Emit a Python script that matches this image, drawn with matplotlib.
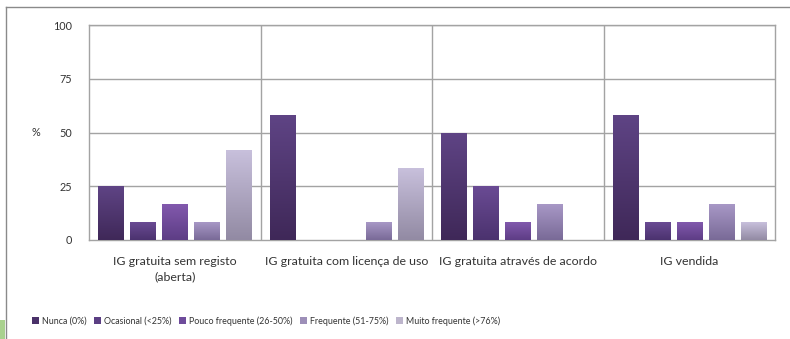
import matplotlib.pyplot as plt
import numpy as np
from matplotlib.colors import LinearSegmentedColormap
from matplotlib.lines import Line2D
from matplotlib.patches import Patch, Rectangle

plt.rcParams["font.family"] = ["Lato", "DejaVu Sans"]

categories = [
    "IG gratuita sem registo\n(aberta)",
    "IG gratuita com licença de uso",
    "IG gratuita através de acordo",
    "IG vendida",
]
series_names = [
    "Nunca (0%)",
    "Ocasional (<25%)",
    "Pouco frequente (26-50%)",
    "Frequente (51-75%)",
    "Muito frequente (>76%)",
]
# percent of answers per category, one list per frequency class
nunca = [25.0, 58.33, 50.0, 58.33]
ocasional = [8.33, 0.0, 25.0, 8.33]
pouco = [16.67, 0.0, 8.33, 8.33]
frequente = [8.33, 8.33, 16.67, 16.67]
muito = [41.67, 33.33, 0.0, 8.33]
yticks = [0, 25, 50, 75, 100]

series = [nunca, ocasional, pouco, frequente, muito]
# (top, bottom) colours of each bar's vertical gradient
gradients = [
    ("#5f4485", "#3f2858"),
    ("#6a4b94", "#4b326e"),
    ("#8259ad", "#5d3d85"),
    ("#a898c6", "#796a97"),
    ("#c8c0dc", "#928aa3"),
]
legend_colors = ["#4a3169", "#5b3e83", "#6e4b9b", "#9d8fb8", "#bdb5cc"]

fig = plt.figure(figsize=(7.9, 3.39), dpi=100)

# slide frame and decorations
frame_kw = dict(color="#8a8a8a", lw=1.0, transform=fig.transFigure)
fig.add_artist(Line2D([6 / 790, 1.0], [1 - 7 / 339] * 2, **frame_kw))
fig.add_artist(Line2D([6 / 790] * 2, [0.0, 1 - 7 / 339], **frame_kw))
fig.add_artist(Rectangle((0, 0), 5 / 790, 19 / 339, transform=fig.transFigure,
                         color="#a9d18e", lw=0))

ax = fig.add_axes([89 / 790, 1 - 240 / 339, 686 / 790, 215 / 339])

n = len(series)
pitch = 0.1866
width = 0.146
x = np.arange(len(categories)) + 0.5

grad = np.linspace(1, 0, 256).reshape(-1, 1)
for i, (vals, (top, bottom)) in enumerate(zip(series, gradients)):
    cmap = LinearSegmentedColormap.from_list(f"g{i}", [bottom, top])
    xs = x + (i - (n - 1) / 2) * pitch
    bars = ax.bar(xs, vals, width=width, color="none", edgecolor="none", zorder=3)
    for bar in bars:
        h = bar.get_height()
        if h <= 0:
            continue
        x0 = bar.get_x()
        im = ax.imshow(grad, cmap=cmap, aspect="auto", origin="upper",
                       extent=(x0, x0 + bar.get_width(), 0, h), zorder=3,
                       interpolation="bilinear")
        im.set_clip_path(bar)

ax.set_xlim(0, len(categories))
ax.set_ylim(0, 100)

grid_color = "#a3a3a3"
for y in yticks[1:]:
    ax.axhline(y, color=grid_color, lw=1.0, zorder=1)
for xv in range(1, len(categories)):
    ax.axvline(xv, color=grid_color, lw=1.0, zorder=1)
for side in ["left", "right", "bottom", "top"]:
    ax.spines[side].set_color(grid_color)
    ax.spines[side].set_linewidth(1.0)

ax.set_yticks(yticks)
ax.set_yticklabels([str(t) for t in yticks], fontsize=7.8, color="#333333")
ax.tick_params(axis="y", length=0, pad=12)
ax.set_xticks([])

for xc, label in zip(x, categories):
    ax.text(xc, -7.5, label, ha="center", va="top", fontsize=8.9,
            color="#333333", linespacing=1.5, transform=ax.transData)

fig.text(31 / 790, 1 - 133 / 339, "%", ha="left", va="center", fontsize=7.8,
         color="#333333")

handles = [Patch(facecolor=c, edgecolor="none") for c in legend_colors]
fig.legend(handles, series_names, loc="center", bbox_to_anchor=(266 / 790, 1 - 321 / 339),
           ncol=5, frameon=False, fontsize=6.4, handlelength=0.8, handleheight=0.8,
           handletextpad=0.3, columnspacing=0.85, labelcolor="#333333")

fig.savefig("out.png", dpi=100)
